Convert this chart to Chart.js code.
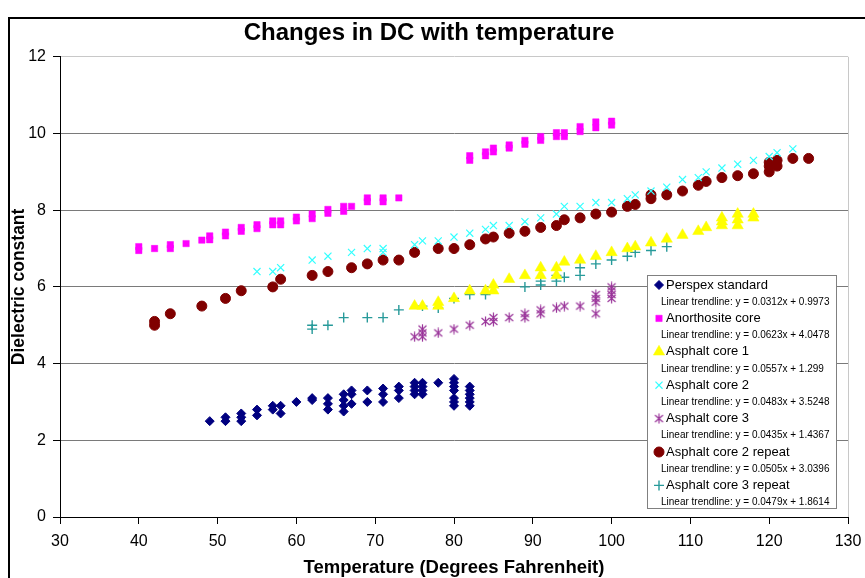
<!DOCTYPE html>
<html>
<head>
<meta charset="utf-8">
<title>Changes in DC with temperature</title>
<script src="https://cdn.jsdelivr.net/npm/chart.js@4.4.0/dist/chart.umd.min.js"></script>
<style>
  html, body { margin: 0; padding: 0; background: #fff; overflow: hidden; }
  #frame { position: absolute; left: 8px; top: 17px; border-left: 2px solid #000; border-top: 2px solid #000; }
  canvas { display: block; }
</style>
</head>
<body>
<div id="frame"><canvas id="dcChart" width="880" height="600"></canvas></div>
<script>
// temperatures (F) and dielectric constants
const perspexTemp = [49, 51, 51, 53, 53, 53, 55, 55, 57, 57, 58, 58, 60, 62, 62, 64, 64, 64, 66, 66, 66, 66, 67, 67, 67, 69, 69, 71, 71, 71, 73, 73, 73, 75, 75, 75, 75, 76, 76, 76, 76, 78, 80, 80, 80, 80, 80, 80, 80, 82, 82, 82, 82, 82, 82];
const perspexDC = [2.5, 2.5, 2.6, 2.5, 2.6, 2.7, 2.65, 2.8, 2.8, 2.9, 2.7, 2.9, 3.0, 3.05, 3.1, 2.8, 2.95, 3.1, 2.75, 2.9, 3.05, 3.2, 2.95, 3.2, 3.3, 3.0, 3.3, 3.0, 3.2, 3.35, 3.1, 3.3, 3.4, 3.2, 3.3, 3.4, 3.5, 3.2, 3.3, 3.4, 3.5, 3.5, 2.9, 3.0, 3.1, 3.3, 3.4, 3.5, 3.6, 2.9, 3.0, 3.1, 3.2, 3.3, 3.4];

const anorthTemp = [40, 40, 42, 44, 44, 46, 48, 49, 49, 51, 51, 53, 53, 55, 55, 57, 57, 58, 58, 60, 60, 62, 62, 64, 64, 66, 66, 67, 69, 69, 71, 71, 73, 82, 82, 84, 84, 85, 85, 87, 87, 89, 89, 91, 91, 93, 93, 94, 94, 96, 96, 98, 98, 100, 100];
const anorthDC = [6.95, 7.05, 7.0, 7.0, 7.1, 7.13, 7.22, 7.23, 7.33, 7.33, 7.43, 7.45, 7.55, 7.52, 7.62, 7.62, 7.72, 7.62, 7.72, 7.72, 7.82, 7.78, 7.9, 7.92, 8.02, 7.97, 8.1, 8.1, 8.22, 8.32, 8.22, 8.32, 8.32, 9.3, 9.42, 9.42, 9.52, 9.52, 9.62, 9.62, 9.7, 9.72, 9.82, 9.82, 9.92, 9.92, 10.02, 9.92, 10.02, 10.05, 10.18, 10.15, 10.3, 10.22, 10.32];

const core1Temp = [75, 76, 78, 78, 80, 82, 84, 85, 85, 87, 89, 91, 91, 93, 93, 94, 96, 98, 100, 102, 103, 105, 107, 109, 111, 112, 114, 114, 114, 116, 116, 116, 118, 118];
const core1DC = [5.5, 5.5, 5.5, 5.6, 5.7, 5.9, 5.9, 5.9, 6.05, 6.2, 6.3, 6.3, 6.5, 6.3, 6.5, 6.65, 6.7, 6.8, 6.9, 7.0, 7.05, 7.15, 7.25, 7.35, 7.45, 7.55, 7.6, 7.7, 7.8, 7.6, 7.75, 7.9, 7.8, 7.9];

const core2Temp = [55, 57, 58, 62, 64, 67, 69, 71, 71, 75, 76, 78, 80, 82, 84, 85, 87, 89, 91, 93, 94, 96, 98, 100, 102, 103, 105, 107, 109, 111, 112, 114, 116, 118, 120, 121, 123];
const core2DC = [6.4, 6.4, 6.5, 6.7, 6.8, 6.9, 7.0, 6.9, 7.0, 7.1, 7.2, 7.2, 7.3, 7.4, 7.5, 7.6, 7.6, 7.7, 7.8, 7.9, 8.1, 8.1, 8.2, 8.2, 8.3, 8.4, 8.5, 8.6, 8.8, 8.85, 9.0, 9.1, 9.2, 9.3, 9.4, 9.5, 9.6];

const core3Temp = [75, 76, 76, 76, 78, 80, 82, 84, 85, 85, 87, 89, 89, 91, 91, 93, 94, 96, 98, 98, 98, 98, 100, 100, 100, 100];
const core3DC = [4.7, 4.7, 4.8, 4.9, 4.8, 4.9, 5.0, 5.1, 5.1, 5.2, 5.2, 5.2, 5.3, 5.3, 5.4, 5.45, 5.5, 5.5, 5.3, 5.6, 5.7, 5.8, 5.7, 5.8, 5.9, 6.0];

const core2RepTemp = [42, 42, 44, 48, 51, 53, 57, 58, 62, 64, 67, 69, 71, 73, 75, 78, 80, 82, 84, 85, 87, 89, 91, 93, 94, 96, 98, 100, 102, 103, 105, 105, 107, 109, 111, 112, 114, 116, 118, 120, 120, 120, 121, 121, 123, 125];
const core2RepDC = [5.0, 5.1, 5.3, 5.5, 5.7, 5.9, 6.0, 6.2, 6.3, 6.4, 6.5, 6.6, 6.7, 6.7, 6.9, 7.0, 7.0, 7.1, 7.25, 7.3, 7.4, 7.45, 7.55, 7.6, 7.75, 7.8, 7.9, 7.95, 8.1, 8.15, 8.3, 8.4, 8.4, 8.5, 8.65, 8.75, 8.85, 8.9, 8.95, 9.0, 9.15, 9.25, 9.15, 9.3, 9.35, 9.35];

const core3RepTemp = [62, 62, 64, 66, 69, 71, 73, 76, 78, 80, 82, 84, 85, 89, 91, 91, 93, 93, 94, 96, 96, 98, 100, 102, 103, 105, 107];
const core3RepDC = [4.9, 5.0, 5.0, 5.2, 5.2, 5.2, 5.4, 5.5, 5.45, 5.7, 5.8, 5.8, 6.0, 6.0, 6.05, 6.15, 6.15, 6.3, 6.25, 6.3, 6.5, 6.6, 6.7, 6.8, 6.9, 6.95, 7.05];

const seriesNames = ['Perspex standard', 'Anorthosite core', 'Asphalt core 1', 'Asphalt core 2', 'Asphalt core 3', 'Asphalt core 2 repeat', 'Asphalt core 3 repeat'];
const trendlines = [
    'Linear trendline: y = 0.0312x + 0.9973',
    'Linear trendline: y = 0.0623x + 4.0478',
    'Linear trendline: y = 0.0557x + 1.299',
    'Linear trendline: y = 0.0483x + 3.5248',
    'Linear trendline: y = 0.0435x + 1.4367',
    'Linear trendline: y = 0.0505x + 3.0396',
    'Linear trendline: y = 0.0479x + 1.8614'
];
const xTicks = [30, 40, 50, 60, 70, 80, 90, 100, 110, 120, 130];
const yTicks = [0, 2, 4, 6, 8, 10, 12];

const FONT = "'Liberation Sans', Arial, sans-serif";

function toPoints(xs, ys) {
    return xs.map((x, i) => ({ x: x, y: ys[i] }));
}

// asterisk marker: vertical bar plus an X
function asteriskMarker(color) {
    const c = document.createElement('canvas');
    c.width = 11; c.height = 11;
    const g = c.getContext('2d');
    g.strokeStyle = color;
    g.lineWidth = 1.2;
    g.beginPath();
    g.moveTo(5.5, 0.5); g.lineTo(5.5, 10.5);
    g.moveTo(1.5, 2); g.lineTo(9.5, 9);
    g.moveTo(9.5, 2); g.lineTo(1.5, 9);
    g.stroke();
    return c;
}

const styles = [
    { color: '#000080', pointStyle: 'rectRot', radius: 4.5, borderWidth: 1 },
    { color: '#ff00ff', pointStyle: 'rect', radius: 4.5, borderWidth: 0.5 },
    { color: '#ffff00', pointStyle: 'triangle', radius: 6.5, borderWidth: 0.5 },
    { color: '#33ffff', pointStyle: 'crossRot', radius: 5, borderWidth: 1.2 },
    { color: '#993399', pointStyle: asteriskMarker('#993399'), radius: 5, borderWidth: 1 },
    { color: '#800000', pointStyle: 'circle', radius: 5, borderWidth: 1 },
    { color: '#279a9a', pointStyle: 'cross', radius: 5, borderWidth: 1.4 }
];

const allData = [
    toPoints(perspexTemp, perspexDC),
    toPoints(anorthTemp, anorthDC),
    toPoints(core1Temp, core1DC),
    toPoints(core2Temp, core2DC),
    toPoints(core3Temp, core3DC),
    toPoints(core2RepTemp, core2RepDC),
    toPoints(core3RepTemp, core3RepDC)
];

const datasets = seriesNames.map((name, i) => ({
    label: name,
    data: allData[i],
    showLine: false,
    pointStyle: styles[i].pointStyle,
    pointRadius: styles[i].radius,
    pointBorderWidth: styles[i].borderWidth,
    backgroundColor: styles[i].color,
    borderColor: styles[i].color
}));

// light grey frame on the right side of the plot + legend box with trendline text
const plotExtras = {
    id: 'plotExtras',
    beforeDatasetsDraw(chart) {
        const { ctx, chartArea: a } = chart;
        ctx.save();
        ctx.strokeStyle = '#c8c8c8';
        ctx.lineWidth = 1;
        ctx.beginPath();
        ctx.moveTo(Math.round(a.right) + 0.5, a.top);
        ctx.lineTo(Math.round(a.right) + 0.5, a.bottom);
        ctx.stroke();
        ctx.restore();
    },
    afterDraw(chart) {
        const { ctx, chartArea: a } = chart;
        const x0 = Math.round(a.right) - 201, y0 = Math.round(a.bottom) - 242;
        const w = 189, h = 233;
        ctx.save();
        ctx.fillStyle = '#fff';
        ctx.fillRect(x0, y0, w, h);
        ctx.strokeStyle = '#808080';
        ctx.lineWidth = 1;
        ctx.strokeRect(x0 + 0.5, y0 + 0.5, w, h);
        ctx.textBaseline = 'middle';
        ctx.textAlign = 'left';
        seriesNames.forEach((name, i) => {
            const ly = y0 + 10 + i * 33.4;
            const st = styles[i];
            ctx.fillStyle = st.color;
            ctx.strokeStyle = st.color;
            ctx.lineWidth = st.borderWidth;
            Chart.helpers.drawPoint(ctx, { pointStyle: st.pointStyle, radius: st.radius, rotation: 0, borderWidth: st.borderWidth }, x0 + 12, ly);
            ctx.fillStyle = '#000';
            ctx.font = '13px ' + FONT;
            ctx.fillText(name, x0 + 19, ly);
            ctx.font = '10px ' + FONT;
            ctx.fillText(trendlines[i], x0 + 14, ly + 17);
        });
        ctx.restore();
    }
};

new Chart(document.getElementById('dcChart'), {
    type: 'scatter',
    data: { datasets: datasets },
    plugins: [plotExtras],
    options: {
        responsive: false,
        animation: false,
        layout: { padding: { left: 0, right: 42, top: 0, bottom: 0 } },
        plugins: {
            legend: { display: false },
            tooltip: { enabled: false },
            title: {
                display: true,
                text: 'Changes in DC with temperature',
                color: '#000',
                font: { family: FONT, size: 24, weight: 'bold', lineHeight: 1.2 },
                padding: { top: 0, bottom: 9 }
            }
        },
        scales: {
            x: {
                type: 'linear',
                min: xTicks[0],
                max: xTicks[xTicks.length - 1],
                afterBuildTicks(s) { s.ticks = xTicks.map(v => ({ value: v })); },
                afterFit(s) { s.height = 102; },
                ticks: { color: '#000', font: { family: FONT, size: 16 }, padding: 8, maxRotation: 0 },
                grid: { drawOnChartArea: false, tickLength: 7, tickColor: '#000' },
                border: { color: '#000', width: 1 },
                title: {
                    display: true,
                    text: 'Temperature (Degrees Fahrenheit)',
                    color: '#000',
                    font: { family: FONT, size: 18.5, weight: 'bold', lineHeight: 1.2 },
                    padding: { top: 0, bottom: 40 }
                }
            },
            y: {
                min: yTicks[0],
                max: yTicks[yTicks.length - 1],
                afterBuildTicks(s) { s.ticks = yTicks.map(v => ({ value: v })); },
                afterFit(s) { s.width = 50; },
                ticks: { color: '#000', font: { family: FONT, size: 16 }, padding: 7 },
                grid: {
                    color: c => (c.tick && c.tick.value === 12) ? '#c8c8c8' : '#7a7a7a',
                    tickLength: 7,
                    tickColor: '#000'
                },
                border: { color: '#000', width: 1 },
                title: {
                    display: true,
                    text: 'Dielectric constant',
                    color: '#000',
                    font: { family: FONT, size: 17.5, weight: 'bold', lineHeight: 1 },
                    padding: { top: 0, bottom: 0 }
                }
            }
        }
    }
});
</script>
</body>
</html>
